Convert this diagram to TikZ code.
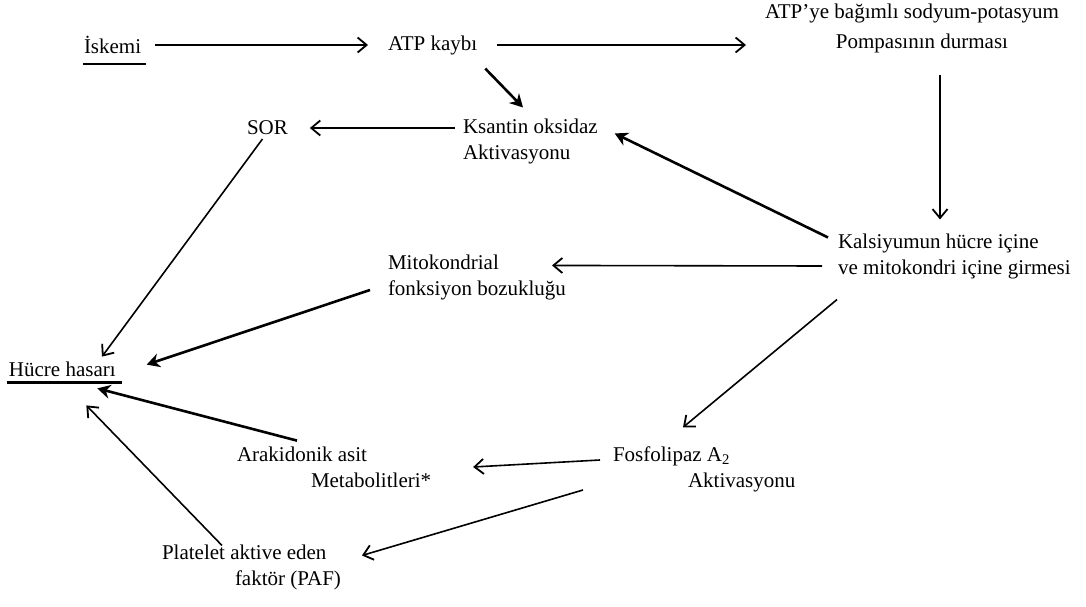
\documentclass[tikz,border=0pt]{standalone}
\usepackage{fontspec}
\setmainfont{Liberation Serif}
\usetikzlibrary{arrows.meta,calc}
\tikzset{
  lbl/.style={inner sep=0pt, outer sep=0pt, font=\fontsize{21}{26}\selectfont, align=left},
  arr/.style={line width=1.6pt, -{Straight Barb[length=9pt,width=15pt,line width=1.8pt]}},
  arrthick/.style={line width=2.6pt, -{Stealth[length=13pt,width=14pt]}},
}
\begin{document}
\begin{tikzpicture}[x=1pt,y=-1pt]
\useasboundingbox (0,0) rectangle (1086,607);
% nodes
\node[lbl,anchor=west] (isk) at (84,45) {İskemi};
\node[lbl,anchor=west] (atp) at (388,45) {ATP kaybı};
\node[lbl,align=center,font=\fontsize{21}{30}\selectfont] (pump) at (912,28) {ATP'ye bağımlı sodyum-potasyum\\\hspace*{20pt}Pompasının durması};
\node[lbl,anchor=west] (sor) at (247,128) {SOR};
\node[lbl,anchor=west] (ks) at (463,141) {Ksantin oksidaz\\Aktivasyonu};
\node[lbl,anchor=west] (kal) at (838,256) {Kalsiyumun hücre içine\\ve mitokondri içine girmesi};
\node[lbl,anchor=west] (mito) at (388,277) {Mitokondrial\\fonksiyon bozukluğu};
\node[lbl,anchor=west] (hucre) at (9,369) {Hücre hasarı};
\node[lbl,anchor=west] (arak) at (237,467) {Arakidonik asit\\\hspace*{74pt}Metabolitleri*};
\node[lbl,anchor=west] (fos) at (613,469) {Fosfolipaz A\textsubscript{2}\\\hspace*{75pt}Aktivasyonu};
\node[lbl,anchor=west] (paf) at (162,567) {Platelet aktive eden\\\hspace*{73pt}faktör (PAF)};
\coordinate (pv) at ($(pump.south)+(28,0)$);
% underlines
\draw[line width=2pt] ($(isk.south west)+(-1,10)$) -- ($(isk.south east)+(5,10)$);
\draw[line width=3pt] ($(hucre.south west)+(-2,6)$) -- ($(hucre.south east)+(6,6)$);
% connectors
\draw[arr,shorten <=14pt,shorten >=20pt] (isk.east) -- (isk.east -| atp.west);
\draw[arr,shorten <=20pt,shorten >=19pt] (atp.east) -- (atp.east -| pump.west);
\draw[arr,shorten <=22pt,shorten >=14pt] (pv) -- (pv |- kal.north);
\draw[arrthick] ($(atp.south east)+(8,14)$) -- ($(ks.north west)+(60,-11)$);
\draw[arr,shorten <=8pt,shorten >=22pt] (sor.east -| ks.west) -- (sor.east);
\draw[arrthick] ($(kal.north west)+(-10,4)$) -- ($(ks.north east)+(17,15)$);
\draw[arr] ($(kal.west)+(-16,10)$) -- ($(mito.north west)+(164,11)$);
\draw[arr] ($(sor.south)+(-5,4)$) -- ($(hucre.north west)+(93,-5)$);
\draw[arrthick] ($(mito.west)+(-18,13)$) -- ($(hucre.north east)+(31,3)$);
\draw[arrthick] ($(arak.north west)+(60,-6)$) -- ($(hucre.south)+(35,12)$);
\draw[arr] ($(paf.north west)+(60,1)$) -- ($(hucre.south)+(24,29)$);
\draw[arr] ($(fos.west)+(-13,-9)$) -- ($(arak.east)+(42,0)$);
\draw[arr] ($(kal.south west)+(-1,21)$) -- ($(fos.north west)+(70,-19)$);
\draw[arr] ($(fos.west)+(-30,21)$) -- ($(paf.north east)+(21,11)$);
\end{tikzpicture}
\end{document}
